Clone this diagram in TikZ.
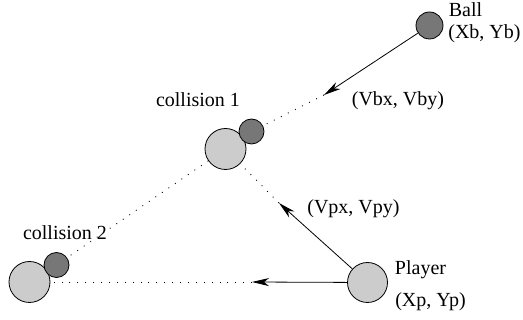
\documentclass[tikz,border=0pt]{standalone}
\usepackage{fontspec}
\setmainfont{Liberation Serif}
\usetikzlibrary{arrows.meta}
\definecolor{lightball}{RGB}{204,204,204}
\definecolor{darkball}{RGB}{119,119,119}
\begin{document}
\begin{tikzpicture}[x=1pt,y=-1pt,
  big/.style={circle,draw=black,line width=0.8pt,fill=lightball,minimum size=41pt,inner sep=0pt},
  small/.style={circle,draw=black,line width=0.8pt,fill=darkball,minimum size=25pt,inner sep=0pt},
  lbl/.style={inner sep=0pt,font=\fontsize{20}{24}\selectfont},
  arr/.style={line width=0.8pt,-{Stealth[length=17pt,width=8pt,inset=5pt]}},
  dots/.style={line width=0.9pt,dash pattern=on 0.9pt off 7pt}]
\useasboundingbox (0,0) rectangle (523,320);
% balls
\node[small,minimum size=27pt] (ball) at (429.5,25.5) {};
\node[big] (c1big) at (225.5,149) {};
\node[small] (c1dark) at (251.5,131.5) {};
\node[big] (c2big) at (29.5,282) {};
\node[small] (c2dark) at (56.5,265) {};
\node[big,minimum size=40pt] (player) at (367.5,282.5) {};
% velocity tips
\coordinate (vb) at (324,95);
\coordinate (vp) at (279,203);
\coordinate (vh) at (252,282);
% arrows
\draw[arr] (ball) -- (vb);
\draw[arr] (player) -- (vp);
\draw[arr] (player) -- (vh);
% dotted paths
\draw[dots] (vb) -- (c1dark);
\draw[dots] (vp) -- (c1big);
\draw[dots] (vh) -- (c2big);
\draw[dots] (c1big) -- (c2dark);
% labels
\node[lbl] (tball) at (465.5,10) {Ball};
\node[lbl] (tballxy) at (484.5,34) {(Xb, Yb)};
\node[lbl] (tvb) at (398,101) {(Vbx, Vby)};
\node[lbl] (tc1) at (198,99.5) {collision 1};
\node[lbl] (tc2) at (65,232.5) {collision 2};
\node[lbl] (tvp) at (353.5,209) {(Vpx, Vpy)};
\node[lbl] (tpl) at (420.5,269.5) {Player};
\node[lbl] (tplxy) at (430.5,302) {(Xp, Yp)};
\end{tikzpicture}
\end{document}
